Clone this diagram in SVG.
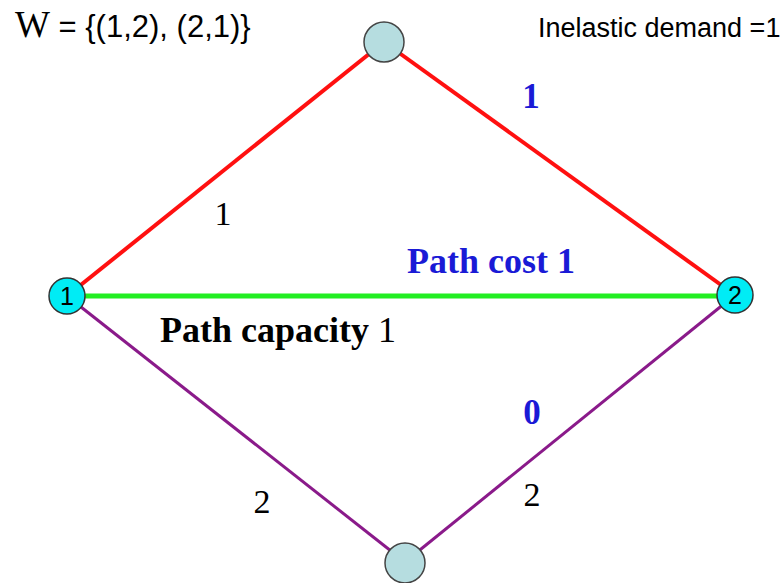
<svg xmlns="http://www.w3.org/2000/svg" width="784" height="583" viewBox="0 0 784 583">
<style>
.serif{font-family:"Liberation Serif",serif}
.sans{font-family:"Liberation Sans",Arial,sans-serif}
.blue{fill:#1a1ad6;font-weight:bold}
.nodeA{fill:#b6dde0;stroke:#444;stroke-width:1.5}
.nodeB{fill:#00ecf5;stroke:#333;stroke-width:1.5}
</style>
<rect width="784" height="583" fill="#fff"/>
<g id="connectors" fill="none">
<line x1="67" y1="296" x2="384" y2="42" stroke="#ff1010" stroke-width="4"/>
<line x1="384" y1="42" x2="735" y2="295" stroke="#ff1010" stroke-width="4"/>
<line x1="67" y1="296" x2="735" y2="296" stroke="#22ee22" stroke-width="5"/>
<line x1="67" y1="296" x2="405" y2="562" stroke="#8a1a8a" stroke-width="3"/>
<line x1="405" y1="562" x2="735" y2="295" stroke="#8a1a8a" stroke-width="3"/>
</g>
<g id="node-top"><circle class="nodeA" cx="384" cy="42" r="20"/></g>
<g id="node-bottom"><circle class="nodeA" cx="405" cy="563" r="20"/></g>
<g id="node-1"><circle class="nodeB" cx="67" cy="296" r="18"/><text class="sans" x="67" y="305" font-size="25" text-anchor="middle">1</text></g>
<g id="node-2"><circle class="nodeB" cx="735" cy="295" r="18"/><text class="sans" x="735" y="304" font-size="25" text-anchor="middle">2</text></g>
<g id="labels">
<text x="15" y="37" font-size="31"><tspan class="serif" font-size="37">W</tspan><tspan class="sans"> = {(1,2), (2,1)}</tspan></text>
<text class="sans" x="538" y="37" font-size="27">Inelastic demand =1</text>
<text class="serif blue" x="531" y="108" font-size="35" text-anchor="middle">1</text>
<text class="serif" x="223" y="225" font-size="34" text-anchor="middle">1</text>
<text class="serif blue" x="407" y="273" font-size="36">Path cost 1</text>
<text class="serif" x="160" y="342" font-size="36"><tspan font-weight="bold">Path capacity</tspan> 1</text>
<text class="serif blue" x="532" y="424" font-size="35" text-anchor="middle">0</text>
<text class="serif" x="262" y="513" font-size="34" text-anchor="middle">2</text>
<text class="serif" x="532" y="506" font-size="34" text-anchor="middle">2</text>
</g>
</svg>
